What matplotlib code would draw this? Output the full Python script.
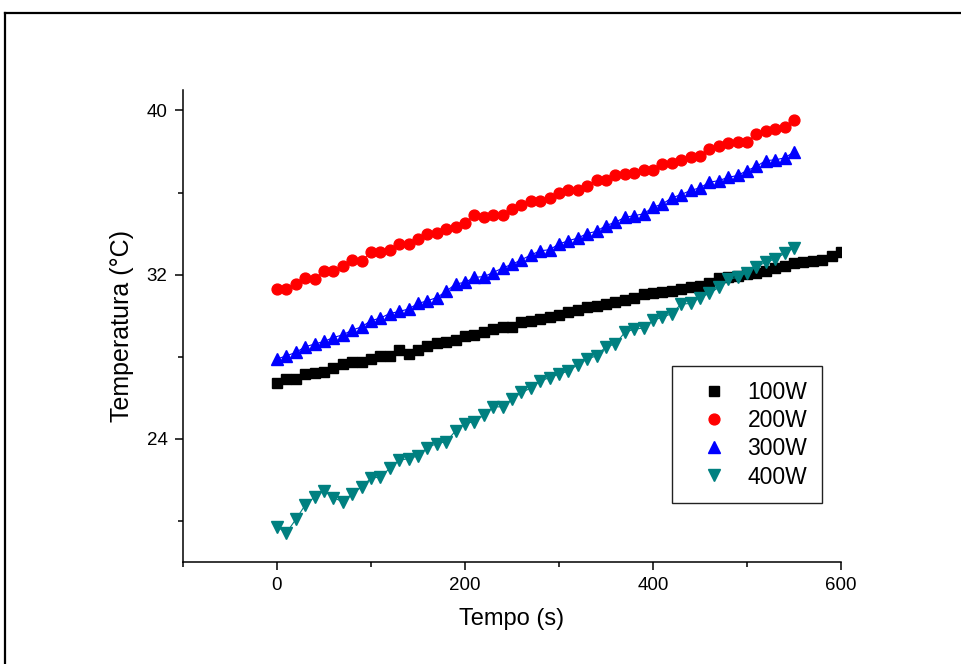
import numpy as np
import matplotlib.pyplot as plt
from matplotlib.ticker import MultipleLocator
from matplotlib.lines import Line2D

plt.rcParams['font.family'] = ['Liberation Sans', 'DejaVu Sans']

# tempo (s)
t_100 = np.arange(0, 601, 10)
t_rest = np.arange(0, 551, 10)

temp_100 = [26.69, 26.9, 26.9, 27.14, 27.22, 27.27, 27.44, 27.63, 27.76, 27.76,
            27.88, 28.04, 28.04, 28.32, 28.12, 28.32, 28.53, 28.64, 28.72, 28.82,
            29.01, 29.05, 29.22, 29.34, 29.42, 29.45, 29.71, 29.75, 29.83, 29.94,
            30.04, 30.15, 30.27, 30.4, 30.48, 30.56, 30.64, 30.76, 30.86, 31.05,
            31.1, 31.13, 31.21, 31.29, 31.37, 31.46, 31.57, 31.81, 31.86, 31.94,
            32.03, 32.08, 32.19, 32.32, 32.43, 32.55, 32.6, 32.64, 32.71, 32.92,
            33.08]
temp_200 = [31.29, 31.3, 31.54, 31.81, 31.78, 32.19, 32.19, 32.4, 32.71, 32.68,
            33.08, 33.08, 33.2, 33.49, 33.49, 33.75, 33.98, 34.01, 34.22, 34.3,
            34.5, 34.92, 34.79, 34.92, 34.91, 35.18, 35.41, 35.61, 35.61, 35.74,
            35.96, 36.13, 36.13, 36.34, 36.62, 36.62, 36.83, 36.88, 36.94, 37.1,
            37.1, 37.4, 37.43, 37.59, 37.72, 37.8, 38.13, 38.29, 38.4, 38.45,
            38.45, 38.86, 38.99, 39.1, 39.19, 39.55]
temp_300 = [27.88, 28.04, 28.2, 28.48, 28.61, 28.74, 28.93, 29.06, 29.29, 29.45,
            29.75, 29.88, 30.1, 30.2, 30.32, 30.59, 30.72, 30.88, 31.18, 31.54,
            31.62, 31.86, 31.9, 32.1, 32.32, 32.5, 32.72, 32.95, 33.16, 33.21,
            33.49, 33.65, 33.78, 34.0, 34.11, 34.39, 34.55, 34.79, 34.87, 34.96,
            35.28, 35.44, 35.74, 35.9, 36.1, 36.23, 36.5, 36.58, 36.74, 36.83,
            37.07, 37.27, 37.56, 37.59, 37.69, 37.97]
temp_400 = [19.7, 19.41, 20.06, 20.76, 21.15, 21.45, 21.12, 20.92, 21.31, 21.64,
            22.07, 22.13, 22.55, 22.95, 23.02, 23.16, 23.56, 23.76, 23.85, 24.38,
            24.73, 24.83, 25.14, 25.55, 25.55, 25.92, 26.25, 26.46, 26.8, 26.98,
            27.14, 27.3, 27.6, 27.88, 28.04, 28.48, 28.61, 29.18, 29.34, 29.39,
            29.78, 29.91, 30.1, 30.56, 30.59, 30.88, 31.08, 31.37, 31.78, 31.86,
            32.1, 32.38, 32.6, 32.76, 33.03, 33.3]

fig = plt.figure(figsize=(9.61, 6.64), dpi=100)
ax = fig.add_axes([0.1904, 0.1541, 0.6847, 0.7104])

ax.plot(t_100, temp_100, color='black', lw=0.8, marker='s', ms=7.2, label='100W')
ax.plot(t_rest, temp_200, color='red', lw=0.8, marker='o', ms=7.8, label='200W')
ax.plot(t_rest, temp_300, color='blue', lw=0.8, marker='^', ms=8.6, label='300W')
ax.plot(t_rest, temp_400, color='#008080', lw=0.8, marker='v', ms=9, label='400W')

ax.set_xlim(-100, 600)
ax.set_ylim(18, 41)
ax.xaxis.set_major_locator(MultipleLocator(200))
ax.xaxis.set_minor_locator(MultipleLocator(100))
ax.yaxis.set_major_locator(MultipleLocator(8))
ax.yaxis.set_minor_locator(MultipleLocator(4))

for s in ['top', 'right']:
    ax.spines[s].set_visible(False)
for s in ['left', 'bottom']:
    ax.spines[s].set_linewidth(1.1)

ax.tick_params(which='major', direction='out', length=6, width=1.1, labelsize=13.5, pad=5)
ax.tick_params(which='minor', direction='out', length=3.3, width=1.1)

ax.set_xlabel('Tempo (s)', fontsize=17, labelpad=10)
ax.set_ylabel('Temperatura (°C)', fontsize=18, labelpad=9)

leg = ax.legend(loc='upper left', bbox_to_anchor=(0.7427, 0.4138), fontsize=16.5,
                frameon=True, fancybox=False, framealpha=1, handlelength=2.36,
                handletextpad=0.3, borderpad=0.65, labelspacing=0.22,
                borderaxespad=0)
leg.get_frame().set_edgecolor('#222222')
leg.get_frame().set_linewidth(1.0)
for h in leg.legend_handles:
    h.set_linestyle('none')

# outer frame
fig.add_artist(Line2D([0.0057, 1.0], [0.981, 0.981], color='black', lw=1.6))
fig.add_artist(Line2D([0.0057, 0.0057], [0.0, 0.981], color='black', lw=1.6))

fig.savefig('out.png', dpi=100)
